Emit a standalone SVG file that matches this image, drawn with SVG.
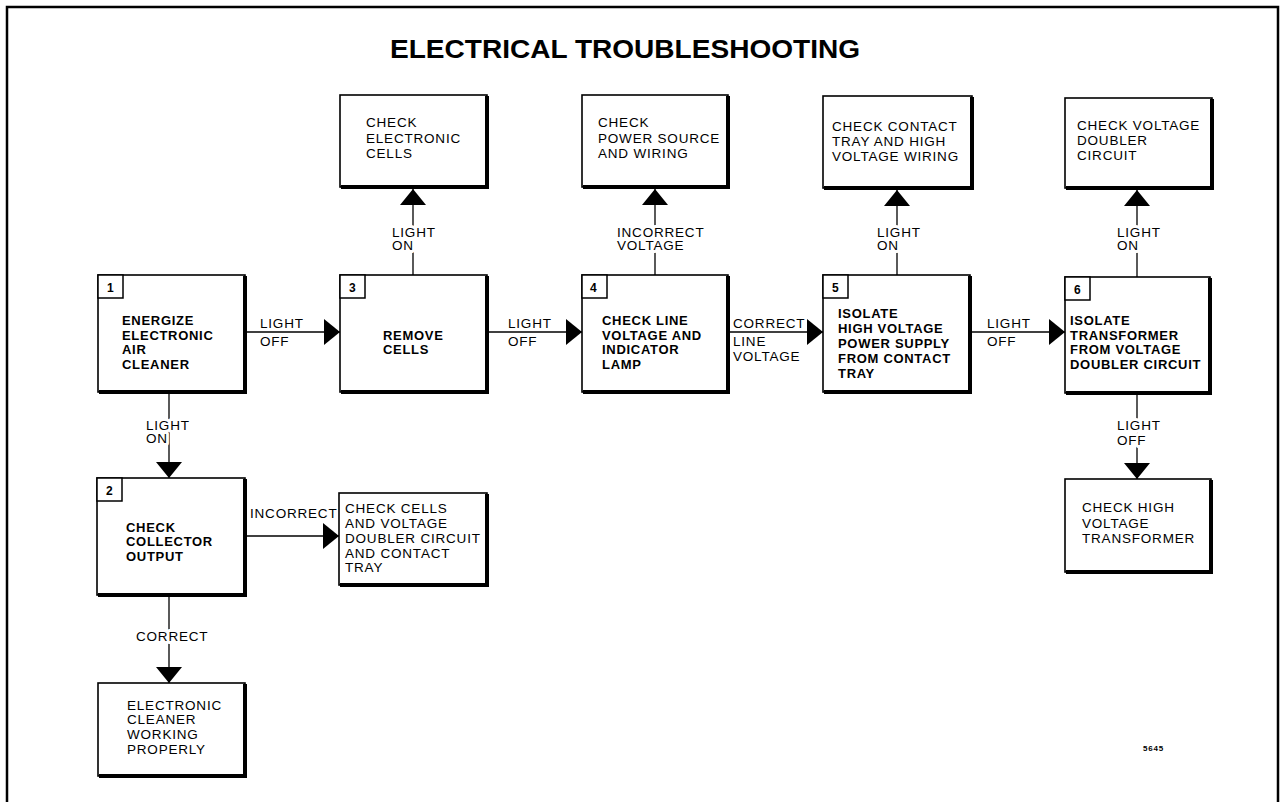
<svg xmlns="http://www.w3.org/2000/svg" width="1287" height="802" viewBox="0 0 1287 802">
<style>
text{font-family:"Liberation Sans",Arial,sans-serif;fill:#000}
.b{font-weight:bold;font-size:13px;letter-spacing:0.7px}
.r{font-size:13.5px;letter-spacing:0.8px}
.lbl{font-size:13.5px;letter-spacing:0.8px;stroke:#fff;stroke-width:6px;paint-order:stroke;stroke-linejoin:round}
.num{font-weight:bold;font-size:12px}
.box{fill:#fff;stroke:#000;stroke-width:1.6}
.sh{fill:none;stroke:#000;stroke-width:4}
.nb{fill:#fff;stroke:#000;stroke-width:1.5}
.c{fill:none;stroke:#000;stroke-width:1.3}
</style>
<defs>
<marker id="ah" markerUnits="userSpaceOnUse" markerWidth="16" markerHeight="26" refX="16" refY="13" orient="auto" viewBox="0 0 16 26">
<path d="M0,0 L16,13 L0,26 z" fill="#000"/>
</marker>
</defs>
<rect width="1287" height="802" fill="#fff"/>
<path d="M7,805 L7,7 L1278,7 L1278,805" fill="none" stroke="#000" stroke-width="2.5"/>
<text x="625" y="58" text-anchor="middle" font-weight="bold" font-size="25" textLength="470" lengthAdjust="spacingAndGlyphs">ELECTRICAL TROUBLESHOOTING</text>

<g id="connectors">
<line class="c" x1="245" y1="332" x2="340" y2="332" marker-end="url(#ah)"/>
<line class="c" x1="487" y1="332" x2="582" y2="332" marker-end="url(#ah)"/>
<line class="c" x1="728" y1="332" x2="823" y2="332" marker-end="url(#ah)"/>
<line class="c" x1="970" y1="332" x2="1065" y2="332" marker-end="url(#ah)"/>
<line class="c" x1="413" y1="275" x2="413" y2="189" marker-end="url(#ah)"/>
<line class="c" x1="655" y1="275" x2="655" y2="189" marker-end="url(#ah)"/>
<line class="c" x1="897" y1="275" x2="897" y2="190" marker-end="url(#ah)"/>
<line class="c" x1="1137" y1="277" x2="1137" y2="190" marker-end="url(#ah)"/>
<line class="c" x1="169" y1="392" x2="169" y2="478" marker-end="url(#ah)"/>
<line class="c" x1="245" y1="536" x2="339" y2="536" marker-end="url(#ah)"/>
<line class="c" x1="169" y1="595" x2="169" y2="683" marker-end="url(#ah)"/>
<line class="c" x1="1137" y1="393" x2="1137" y2="479" marker-end="url(#ah)"/>
<text class="r" x="260" y="328">LIGHT</text>
<text class="r" x="260" y="346">OFF</text>
<text class="r" x="508" y="328">LIGHT</text>
<text class="r" x="508" y="346">OFF</text>
<text class="r" x="733" y="328">CORRECT</text>
<text class="r" x="733" y="346">LINE</text>
<text class="r" x="733" y="361">VOLTAGE</text>
<text class="r" x="987" y="328">LIGHT</text>
<text class="r" x="987" y="346">OFF</text>
<text class="lbl" x="392" y="237">LIGHT</text>
<text class="lbl" x="392" y="250">ON</text>
<text class="lbl" x="617" y="237">INCORRECT</text>
<text class="lbl" x="617" y="250">VOLTAGE</text>
<text class="lbl" x="877" y="237">LIGHT</text>
<text class="lbl" x="877" y="250">ON</text>
<text class="lbl" x="1117" y="237">LIGHT</text>
<text class="lbl" x="1117" y="250">ON</text>
<text class="lbl" x="146" y="430">LIGHT</text>
<text class="lbl" x="146" y="443">ON</text>
<text class="r" x="250" y="518">INCORRECT</text>
<text class="lbl" x="136" y="641">CORRECT</text>
<text class="lbl" x="1117" y="430">LIGHT</text>
<text class="lbl" x="1117" y="445">OFF</text>
</g>

<g id="n1">
<rect class="box" x="98" y="275" width="147" height="117"/>
<path class="sh" d="M245,276 V392 H99"/>
<rect class="nb" x="98" y="275" width="25" height="23"/>
<text class="num" x="107" y="292">1</text>
<text class="b" x="122" y="325">ENERGIZE</text>
<text class="b" x="122" y="340">ELECTRONIC</text>
<text class="b" x="122" y="354">AIR</text>
<text class="b" x="122" y="369">CLEANER</text>
</g>
<g id="n3">
<rect class="box" x="340" y="275" width="147" height="117"/>
<path class="sh" d="M487,276 V392 H341"/>
<rect class="nb" x="340" y="275" width="25" height="23"/>
<text class="num" x="349" y="292">3</text>
<text class="b" x="383" y="340">REMOVE</text>
<text class="b" x="383" y="354">CELLS</text>
</g>
<g id="n4">
<rect class="box" x="582" y="275" width="146" height="117"/>
<path class="sh" d="M728,276 V392 H583"/>
<rect class="nb" x="582" y="275" width="25" height="23"/>
<text class="num" x="590" y="292">4</text>
<text class="b" x="602" y="325">CHECK LINE</text>
<text class="b" x="602" y="340">VOLTAGE AND</text>
<text class="b" x="602" y="354">INDICATOR</text>
<text class="b" x="602" y="369">LAMP</text>
</g>
<g id="n5">
<rect class="box" x="823" y="275" width="147" height="117"/>
<path class="sh" d="M970,276 V392 H824"/>
<rect class="nb" x="823" y="275" width="25" height="23"/>
<text class="num" x="832" y="292">5</text>
<text class="b" x="838" y="318">ISOLATE</text>
<text class="b" x="838" y="333">HIGH VOLTAGE</text>
<text class="b" x="838" y="348">POWER SUPPLY</text>
<text class="b" x="838" y="363">FROM CONTACT</text>
<text class="b" x="838" y="378">TRAY</text>
</g>
<g id="n6">
<rect class="box" x="1065" y="277" width="145" height="116"/>
<path class="sh" d="M1210,278 V393 H1066"/>
<rect class="nb" x="1065" y="277" width="25" height="23"/>
<text class="num" x="1074" y="294">6</text>
<text class="b" x="1070" y="325">ISOLATE</text>
<text class="b" x="1070" y="340">TRANSFORMER</text>
<text class="b" x="1070" y="354">FROM VOLTAGE</text>
<text class="b" x="1070" y="369">DOUBLER CIRCUIT</text>
</g>
<g id="n2">
<rect class="box" x="97" y="478" width="148" height="117"/>
<path class="sh" d="M245,479 V595 H98"/>
<rect class="nb" x="97" y="478" width="25" height="23"/>
<text class="num" x="106" y="495">2</text>
<text class="b" x="126" y="532">CHECK</text>
<text class="b" x="126" y="546">COLLECTOR</text>
<text class="b" x="126" y="561">OUTPUT</text>
</g>
<g id="t3">
<rect class="box" x="340" y="95" width="147" height="92"/>
<path class="sh" d="M487,96 V187 H341"/>
<text class="r" x="366" y="127">CHECK</text>
<text class="r" x="366" y="143">ELECTRONIC</text>
<text class="r" x="366" y="158">CELLS</text>
</g>
<g id="t4">
<rect class="box" x="582" y="95" width="146" height="92"/>
<path class="sh" d="M728,96 V187 H583"/>
<text class="r" x="598" y="127">CHECK</text>
<text class="r" x="598" y="143">POWER SOURCE</text>
<text class="r" x="598" y="158">AND WIRING</text>
</g>
<g id="t5">
<rect class="box" x="823" y="96" width="149" height="92"/>
<path class="sh" d="M972,97 V188 H824"/>
<text class="r" x="832" y="131">CHECK CONTACT</text>
<text class="r" x="832" y="146">TRAY AND HIGH</text>
<text class="r" x="832" y="161">VOLTAGE WIRING</text>
</g>
<g id="t6">
<rect class="box" x="1065" y="98" width="147" height="90"/>
<path class="sh" d="M1212,99 V188 H1066"/>
<text class="r" x="1077" y="130">CHECK VOLTAGE</text>
<text class="r" x="1077" y="145">DOUBLER</text>
<text class="r" x="1077" y="160">CIRCUIT</text>
</g>
<g id="cells">
<rect class="box" x="339" y="493" width="148" height="92"/>
<path class="sh" d="M487,494 V585 H340"/>
<text class="r" x="345" y="513">CHECK CELLS</text>
<text class="r" x="345" y="528">AND VOLTAGE</text>
<text class="r" x="345" y="543">DOUBLER CIRCUIT</text>
<text class="r" x="345" y="558">AND CONTACT</text>
<text class="r" x="345" y="572">TRAY</text>
</g>
<g id="working">
<rect class="box" x="98" y="683" width="147" height="93"/>
<path class="sh" d="M245,684 V776 H99"/>
<text class="r" x="127" y="710">ELECTRONIC</text>
<text class="r" x="127" y="724">CLEANER</text>
<text class="r" x="127" y="739">WORKING</text>
<text class="r" x="127" y="754">PROPERLY</text>
</g>
<g id="transformer">
<rect class="box" x="1065" y="479" width="146" height="93"/>
<path class="sh" d="M1211,480 V572 H1066"/>
<text class="r" x="1082" y="512">CHECK HIGH</text>
<text class="r" x="1082" y="528">VOLTAGE</text>
<text class="r" x="1082" y="543">TRANSFORMER</text>
</g>
<text x="1143" y="751" font-weight="bold" font-size="8" letter-spacing="0.8">5645</text>
</svg>
